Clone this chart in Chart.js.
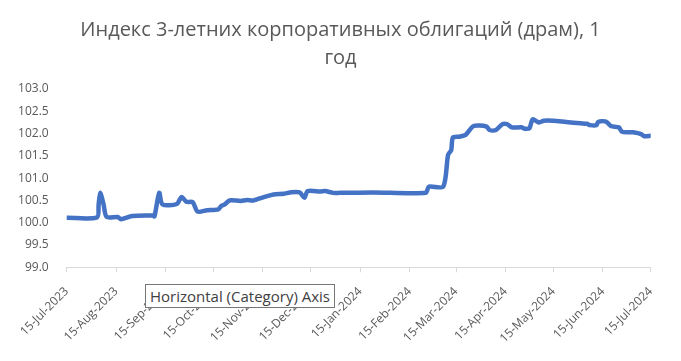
<!DOCTYPE html>
<html>
<head>
<meta charset="utf-8">
<script src="https://cdn.jsdelivr.net/npm/chart.js@4.4.1/dist/chart.umd.min.js"></script>
<style>
  html, body { margin: 0; padding: 0; background: #fff; }
  #wrap { position: relative; width: 681px; height: 361px; }
  #tip {
    position: absolute; left: 145px; top: 284px;
    padding: 1px 4px; background: #fff; border: 1px solid #767676;
    font: 15px "Open Sans", sans-serif; color: #404040; white-space: nowrap;
  }
</style>
</head>
<body>
<div id="wrap">
  <canvas id="chart" width="681" height="361"></canvas>
  <div id="tip">Horizontal (Category) Axis</div>
</div>
<script>
// days since 15-Jul-2023
const days = [0, 19, 20, 21, 23, 25, 32, 34, 41, 54, 55, 58, 60, 69, 72, 75, 79, 82, 88, 95, 97, 99,
  102, 109, 113, 117, 123, 128, 131, 136, 140, 146, 149, 151, 159, 162, 167, 171, 192, 225, 227, 236,
  239, 241, 242, 246, 250, 255, 263, 265, 269, 273, 276, 279, 285, 287, 290, 292, 296, 299, 305, 313,
  322, 326, 328, 332, 333, 338, 341, 346, 348, 353, 355, 360, 362, 366];
const values = [100.11, 100.12, 100.40, 100.67, 100.43, 100.13, 100.13, 100.08, 100.15, 100.16, 100.14, 100.67, 100.41, 100.42, 100.58, 100.47, 100.46, 100.25, 100.28, 100.30, 100.38, 100.41,
  100.50, 100.49, 100.51, 100.50, 100.57, 100.62, 100.64, 100.65, 100.68, 100.68, 100.56, 100.71, 100.70, 100.71, 100.67, 100.67, 100.68, 100.67, 100.81, 100.81,
  101.52, 101.63, 101.91, 101.93, 101.97, 102.17, 102.16, 102.08, 102.08, 102.21, 102.21, 102.14, 102.14, 102.11, 102.12, 102.32, 102.25, 102.29, 102.29, 102.26,
  102.23, 102.22, 102.19, 102.19, 102.26, 102.27, 102.17, 102.14, 102.04, 102.03, 102.03, 101.99, 101.94, 101.95];

const tickDays = [0, 31, 62, 92, 123, 153, 184, 215, 244, 275, 305, 336, 366];
const tickLabels = ['15-Jul-2023', '15-Aug-2023', '15-Sep-2023', '15-Oct-2023', '15-Nov-2023', '15-Dec-2023',
  '15-Jan-2024', '15-Feb-2024', '15-Mar-2024', '15-Apr-2024', '15-May-2024', '15-Jun-2024', '15-Jul-2024'];

const titleLines = ['Индекс 3-летних корпоративных облигаций (драм), 1', 'год'];
const FONT = '"Open Sans", sans-serif';

new Chart(document.getElementById('chart'), {
  type: 'line',
  data: {
    datasets: [{
      data: days.map((d, i) => ({ x: d, y: values[i] })),
      borderColor: '#4472C4',
      borderWidth: 4.5,
      pointRadius: 0,
      tension: 0.25,
      borderCapStyle: 'round',
      borderJoinStyle: 'round'
    }]
  },
  options: {
    responsive: false,
    animation: false,
    layout: { padding: 0 },
    plugins: {
      legend: { display: false },
      tooltip: { enabled: false },
      title: {
        display: true,
        text: titleLines,
        color: '#595959',
        font: { family: FONT, size: 20, weight: 'normal', lineHeight: 1.4 },
        padding: { top: 16, bottom: 17 }
      }
    },
    scales: {
      x: {
        type: 'linear',
        min: 0,
        max: 366,
        afterBuildTicks: s => { s.ticks = tickDays.map(v => ({ value: v })); },
        afterFit: s => { s.height = 93.7; },
        ticks: {
          autoSkip: false,
          minRotation: 45,
          maxRotation: 45,
          color: '#595959',
          font: { family: FONT, size: 12 },
          padding: 12,
          callback: (v) => tickLabels[tickDays.indexOf(v)]
        },
        grid: { drawOnChartArea: false, tickLength: 5, color: '#d9d9d9' },
        border: { color: '#d9d9d9' }
      },
      y: {
        min: 99,
        max: 103,
        afterFit: s => { s.width = 66.7; },
        ticks: {
          stepSize: 0.5,
          color: '#595959',
          font: { family: FONT, size: 12 },
          padding: 10,
          callback: v => v.toFixed(1)
        },
        grid: { display: false },
        border: { display: false }
      },
      // empty right-hand space, keeps the plot edge where the original has it
      yRight: {
        position: 'right',
        afterFit: s => { s.width = 30.3; },
        ticks: { display: false },
        grid: { display: false },
        border: { display: false }
      }
    }
  }
});
</script>
</body>
</html>
